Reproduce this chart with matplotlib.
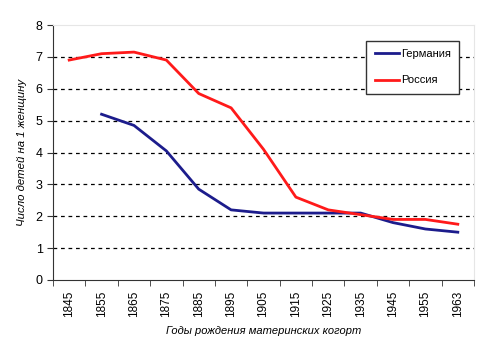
import matplotlib
matplotlib.use("Agg")
import matplotlib.pyplot as plt
import numpy as np

plt.rcParams['font.family'] = ['Liberation Sans', 'DejaVu Sans']

years = ['1845', '1855', '1865', '1875', '1885', '1895', '1905',
         '1915', '1925', '1935', '1945', '1955', '1963']
germany = [np.nan, 5.2, 4.85, 4.05, 2.85, 2.2, 2.1, 2.1, 2.1, 2.1, 1.8, 1.6, 1.5]
russia = [6.9, 7.1, 7.15, 6.9, 5.85, 5.4, 4.1, 2.6, 2.2, 2.05, 1.9, 1.9, 1.75]

fig = plt.figure(figsize=(4.89, 3.47), dpi=100)
ax = fig.add_axes([53 / 489, 1 - 280 / 347, 421 / 489, 255 / 347])

x = np.arange(len(years))
ax.plot(x, germany, color='#1c1c8c', lw=2, label='Германия')
ax.plot(x, russia, color='#ff1a1a', lw=2, label='Россия')

ax.set_xlim(-0.5, len(years) - 0.5)
ax.set_ylim(0, 8)
ax.set_yticks(range(0, 9))
ax.set_xticks(x)
ax.set_xticklabels(years, rotation=90, fontsize=8.5)
ax.set_xticks(np.arange(-0.5, len(years)), minor=True)
ax.tick_params(axis='x', which='major', length=0, pad=8)
ax.tick_params(axis='x', which='minor', length=4, direction='out', color='#333333')
ax.tick_params(axis='y', length=4, direction='out', labelsize=9, color='#333333')

for v in range(1, 8):
    ax.axhline(v, color='black', lw=0.9, ls=(0, (3, 3)), zorder=0)

ax.spines['left'].set_color('#333333')
ax.spines['bottom'].set_color('#333333')
ax.spines['top'].set_color('#e6e6e6')
ax.spines['right'].set_color('#e6e6e6')

ax.set_ylabel('Число детей на 1 женщину', fontstyle='italic', fontsize=8.2, labelpad=6)
ax.set_xlabel('Годы рождения материнских когорт', fontstyle='italic', fontsize=8, labelpad=6)

leg = ax.legend(loc='upper right', bbox_to_anchor=(459 / 489, 1 - 41 / 347), bbox_transform=fig.transFigure,
                fontsize=8, frameon=True, fancybox=False, edgecolor='#333333', framealpha=1,
                handlelength=2.2, labelspacing=1.45, borderpad=0.75, handletextpad=0.15,
                borderaxespad=0)
leg.get_frame().set_linewidth(1.0)

fig.savefig('out.png', dpi=100)
